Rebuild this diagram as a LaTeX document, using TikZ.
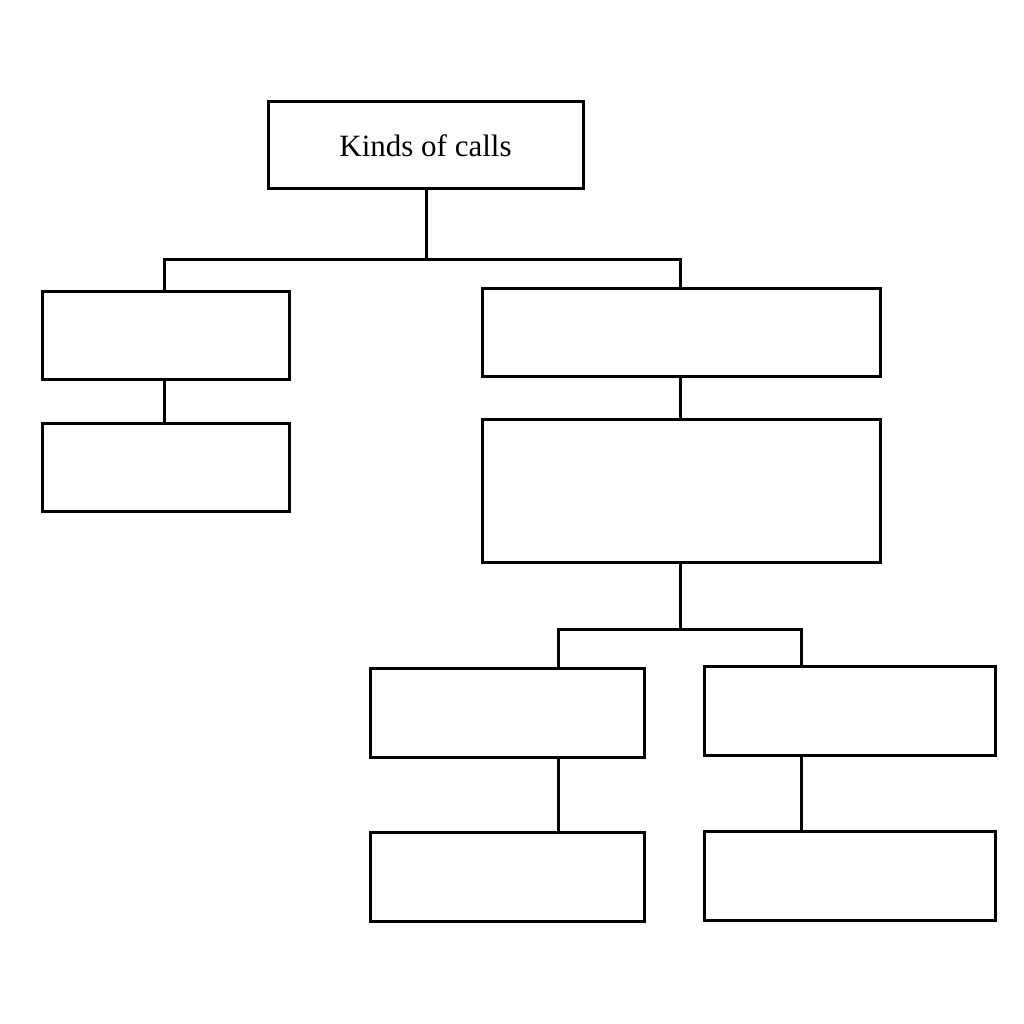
\documentclass[tikz,border=0pt]{standalone}
\usepackage{fontspec}
\setmainfont{Liberation Serif}
\begin{document}
\begin{tikzpicture}[x=1pt,y=-1pt,
  box/.style={draw=black,line width=3pt,rectangle,inner sep=0pt,outer sep=0pt,fill=white},
  conn/.style={draw=black,line width=3pt}]
\useasboundingbox (0,0) rectangle (1024,1024);
\fill[white] (0,0) rectangle (1024,1024);
\node[box,minimum width=315pt,minimum height=87pt,font=\fontsize{31}{36}\selectfont] (top) at (425.5,145.5) {Kinds of calls};
\node[box,minimum width=247pt,minimum height=88pt] (l1) at (165.5,335) {};
\node[box,minimum width=247pt,minimum height=88pt] (l2) at (165.5,467) {};
\node[box,minimum width=398pt,minimum height=88pt] (r1) at (681,332) {};
\node[box,minimum width=398pt,minimum height=143pt] (r2) at (681,490.5) {};
\node[box,minimum width=274pt,minimum height=89pt] (bl1) at (507,712.5) {};
\node[box,minimum width=274pt,minimum height=89pt] (bl2) at (507,876.5) {};
\node[box,minimum width=291pt,minimum height=89pt] (br1) at (849.5,710.5) {};
\node[box,minimum width=291pt,minimum height=89pt] (br2) at (849.5,875.5) {};
\coordinate (j1) at (426,259);
\coordinate (jl) at (164,259);
\coordinate (jr) at (680,259);
\coordinate (j2) at (680,629);
\coordinate (ja) at (558,629);
\coordinate (jb) at (801,629);
\draw[conn] (top.south -| j1) -- (j1);
\draw[conn] (l1.north -| jl) -- (jl) -- (jr) -- (r1.north -| jr);
\draw[conn] (l1.south -| jl) -- (l2.north -| jl);
\draw[conn] (r1.south -| jr) -- (r2.north -| jr);
\draw[conn] (r2.south -| j2) -- (j2);
\draw[conn] (bl1.north -| ja) -- (ja) -- (jb) -- (br1.north -| jb);
\draw[conn] (bl1.south -| ja) -- (bl2.north -| ja);
\draw[conn] (br1.south -| jb) -- (br2.north -| jb);
\end{tikzpicture}
\end{document}
